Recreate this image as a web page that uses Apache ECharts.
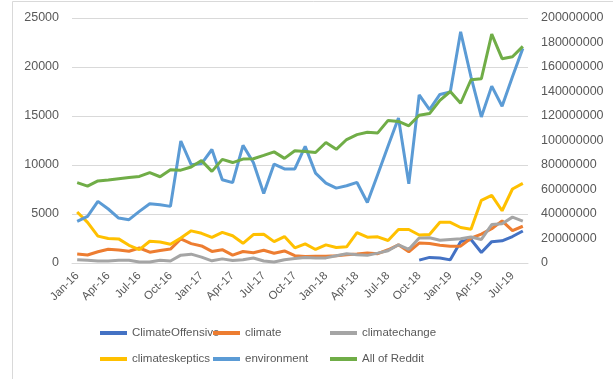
<!DOCTYPE html>
<html>
<head>
<meta charset="utf-8">
<script src="https://cdn.jsdelivr.net/npm/echarts@6/dist/echarts.min.js"></script>
<style>
  html, body { margin: 0; padding: 0; background: #fff; }
  #chart { width: 613px; height: 379px; }
</style>
</head>
<body>
<div id="chart"></div>
<script>
// monthly counts, Jan-16 .. Aug-19
const months = [
  'Jan-16','Feb-16','Mar-16','Apr-16','May-16','Jun-16','Jul-16','Aug-16','Sep-16','Oct-16','Nov-16','Dec-16',
  'Jan-17','Feb-17','Mar-17','Apr-17','May-17','Jun-17','Jul-17','Aug-17','Sep-17','Oct-17','Nov-17','Dec-17',
  'Jan-18','Feb-18','Mar-18','Apr-18','May-18','Jun-18','Jul-18','Aug-18','Sep-18','Oct-18','Nov-18','Dec-18',
  'Jan-19','Feb-19','Mar-19','Apr-19','May-19','Jun-19','Jul-19','Aug-19'
]

const climateOffensive = [
  null, null, null, null, null, null, null, null, null, null, null, null,
  null, null, null, null, null, null, null, null, null, null, null, null,
  null, null, null, null, null, null, null, null, null, 290, 570, 510,
  320, 2180, 2400, 1070, 2180, 2260, 2700, 3270
]
const climate = [
  920, 820, 1150, 1400, 1330, 1200, 1530, 1100, 1280, 1420, 2450, 1980,
  1740, 1180, 1360, 800, 1170, 1050, 1300, 1000, 1230, 750, 670, 690,
  700, 740, 850, 910, 1010, 950, 1350, 1850, 1150, 2030, 1990, 1820,
  1720, 1720, 2530, 2950, 3500, 4300, 3300, 3750
]
const climatechange = [
  340, 270, 200, 200, 270, 270, 100, 100, 270, 200, 800, 900,
  600, 220, 420, 250, 340, 510, 200, 100, 340, 450, 560, 510,
  520, 740, 950, 850, 780, 1010, 1250, 1860, 1400, 2560, 2570, 2320,
  2400, 2470, 2660, 2400, 3920, 4000, 4680, 4280
]
const climateskeptics = [
  5200, 4150, 2740, 2500, 2460, 1810, 1370, 2220, 2150, 1920, 2550, 3280,
  3030, 2610, 3120, 2780, 2010, 2900, 2940, 2180, 2700, 1550, 1950, 1380,
  1850, 1580, 1650, 3100, 2630, 2670, 2300, 3420, 3420, 2860, 2900, 4150,
  4150, 3620, 3450, 6400, 6900, 5330, 7550, 8130
]
const environment = [
  4250, 4760, 6290, 5510, 4590, 4420, 5270, 6050, 5950, 5780, 12450, 10030,
  10150, 11580, 8500, 8200, 12000, 10250, 7100, 10100, 9600, 9600, 11900, 9170,
  8150, 7640, 7880, 8220, 6170, 9040, 11940, 14800, 8080, 17150, 15650, 17200,
  17450, 23600, 19000, 14900, 18050, 16000, 19000, 21900
]
// right axis
const allOfReddit = [
  65600000, 62800000, 67000000, 67800000, 68800000, 69800000, 70700000, 73800000, 70400000, 76200000, 75800000, 78400000,
  83600000, 74800000, 84600000, 82000000, 84800000, 85100000, 87800000, 90700000, 85400000, 91600000, 91000000, 90200000,
  98400000, 92800000, 100800000, 104800000, 106800000, 106200000, 116400000, 115600000, 112000000, 120600000, 122000000, 132800000,
  140000000, 130400000, 149600000, 150400000, 186800000, 166800000, 168400000, 176800000
]

const names = ['ClimateOffensive', 'climate', 'climatechange', 'climateskeptics', 'environment', 'All of Reddit']
const colors = ['#4472C4', '#ED7D31', '#A5A5A5', '#FFC000', '#5B9BD5', '#70AD47']
const values = [climateOffensive, climate, climatechange, climateskeptics, environment, allOfReddit]

const legendPos = [
  [100, 327], [213, 327], [330, 327],
  [100, 353], [213, 353], [330, 353]
]

const chart = echarts.init(document.getElementById('chart'))

chart.setOption({
  backgroundColor: '#fff',
  animation: false,
  textStyle: { fontFamily: 'Liberation Sans, Arial, sans-serif' },
  color: colors,
  graphic: [{
    type: 'rect',
    shape: { x: 12.5, y: 1.5, width: 700, height: 500 },
    style: { fill: 'none', stroke: '#D9D9D9', lineWidth: 1 },
    silent: true
  }],
  legend: names.map((n, i) => ({
    data: [n],
    left: legendPos[i][0],
    top: legendPos[i][1],
    padding: 0,
    icon: 'rect',
    itemWidth: 27,
    itemHeight: 4,
    textStyle: { color: '#595959', fontSize: 11.5 }
  })),
  grid: { left: 72, right: 85, top: 18, bottom: 116 },
  xAxis: {
    type: 'category',
    data: months,
    boundaryGap: true,
    axisLine: { lineStyle: { color: '#D9D9D9' } },
    axisTick: { interval: 2, length: 5, lineStyle: { color: '#D9D9D9' } },
    axisLabel: { interval: 2, rotate: 45, color: '#595959', fontSize: 11.5, margin: 11 }
  },
  yAxis: [{
    type: 'value',
    min: 0, max: 25000, interval: 5000,
    axisLine: { show: false },
    axisTick: { show: false },
    splitLine: { lineStyle: { color: '#D9D9D9' } },
    axisLabel: { color: '#595959', fontSize: 12.5, margin: 13, formatter: v => String(v) }
  }, {
    type: 'value',
    position: 'right',
    min: 0, max: 200000000, interval: 20000000,
    axisLine: { show: false },
    axisTick: { show: false },
    splitLine: { show: false },
    axisLabel: { color: '#595959', fontSize: 12.5, margin: 13, formatter: v => String(v) }
  }],
  series: names.map((n, i) => ({
    name: n,
    type: 'line',
    yAxisIndex: i === 5 ? 1 : 0,
    data: values[i],
    showSymbol: false,
    symbol: 'none',
    lineStyle: { width: 3, color: colors[i] },
    itemStyle: { color: colors[i] }
  }))
})
</script>
</body>
</html>
